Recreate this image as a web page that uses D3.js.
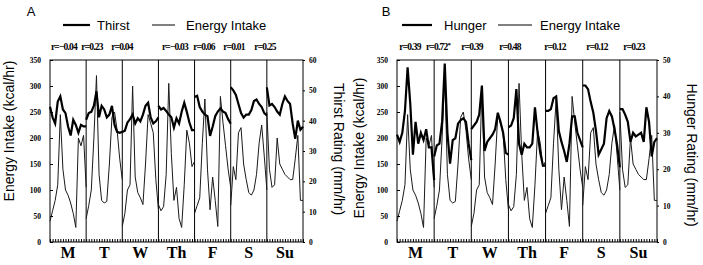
<!DOCTYPE html>
<html>
<head>
<meta charset="utf-8">
<script src="https://cdn.jsdelivr.net/npm/d3@7"></script>
<style>
body { margin: 0; background: #fff; }
.tickLbl { font-family: "Liberation Serif", serif; font-weight: bold; font-size: 7.5px; }
.sans { font-family: "Liberation Sans", Arial, sans-serif; }
</style>
</head>
<body>
<script>
(function(){

//day labels and hours plotted per day (intervals)
var days = ["M", "T", "W", "Th", "F", "S", "Su"];
var hoursPerDay = 14;

//energy intake (kcal/hr), one row per day, shared by both panels
var energyIntake = [
    [40, 60, 80, 110, 245, 140, 100, 90, 75, 55, 28, 200, 185, 205, 105],
    [45, 70, 100, 200, 320, 130, 80, 75, 78, 150, 240, 250, 215, 160, 120],
    [30, 55, 100, 110, 300, 125, 95, 85, 72, 150, 245, 228, 210, 120, 62],
    [72, 60, 68, 130, 305, 170, 80, 105, 45, 28, 110, 215, 190, 145, 155],
    [55, 70, 85, 190, 275, 140, 62, 125, 80, 30, 280, 230, 185, 140, 105],
    [70, 145, 120, 210, 220, 150, 120, 95, 90, 100, 130, 190, 225, 165, 100],
    [250, 140, 105, 110, 200, 150, 140, 130, 125, 120, 120, 160, 205, 80, 80]
];

//thirst rating (mm/hr)
var thirst = [
    [44.6, 41.1, 39.1, 46.3, 48, 43.7, 42.5, 38.1, 35.1, 40.3, 38.6, 36, 38.6, 38.1, 38.1],
    [40.3, 42.5, 42.9, 44.9, 49.7, 41.1, 44.9, 43.7, 41.1, 42, 44.9, 38.6, 36.3, 36, 36.3],
    [36.3, 36.7, 39.4, 40.5, 42, 39.1, 40.8, 39.8, 42, 44.9, 45.9, 41.1, 39.1, 39.8, 41.1],
    [44.9, 43.7, 44.2, 43.2, 42, 41.1, 37.7, 40.8, 39.1, 42.9, 45.9, 42.9, 39.4, 36.9, 36.9],
    [47.8, 48.2, 44.5, 43, 42, 41.5, 35, 38, 41.5, 43, 44, 43, 42.5, 40.5, 39],
    [51, 50, 48.5, 45.5, 42.5, 41, 42, 42, 43.5, 46.5, 47, 45.5, 44.5, 42.5, 41.7],
    [51, 45, 45.5, 44.5, 43, 42, 45.5, 48, 46.5, 45.5, 39, 34, 40, 37, 38]
];

//hunger rating (mm/hr)
var hunger = [
    [29.5, 27.5, 30, 36, 48, 38, 24, 33, 27, 30, 28, 31, 26, 26, 17],
    [23.5, 26.5, 27, 33, 49, 30, 21.5, 28, 28.5, 32.5, 33.5, 34, 33, 27, 22.5],
    [31, 32, 33, 35, 43, 25, 27.5, 28.5, 29.5, 31, 35.5, 33, 30, 24.5, 24],
    [31.5, 32, 34, 42, 27, 24, 27, 26, 26, 27, 37, 30, 24.5, 21, 21],
    [36, 36, 36.5, 39.5, 40, 30.5, 27.5, 25, 22, 27, 34.5, 34.5, 30, 28, 26],
    [43, 43, 42, 38.5, 35.5, 30.5, 24, 25.5, 27, 34, 36, 34.5, 31, 26.5, 20.5],
    [36.5, 36.5, 35, 33, 27.5, 30, 29, 29.5, 30, 27.5, 37, 33, 23.5, 27.5, 28.5]
];

//daily correlations
var thirstR = [-0.04, 0.23, 0.04, -0.03, 0.06, 0.01, 0.25];
var hungerR = [0.39, 0.72, 0.39, 0.48, 0.12, 0.12, 0.23];
var hungerSig = [false, true, false, false, false, false, false];

//tick values
var kcalTicks = [0, 50, 100, 150, 200, 250, 300, 350];
var thirstTicks = [0, 10, 20, 30, 40, 50, 60];
var hungerTicks = [0, 10, 20, 30, 40, 50];

window.onload = setChart();

function setChart(){
    var width = 703,
        height = 265;

    var svg = d3.select("body")
        .append("svg")
        .attr("width", width)
        .attr("height", height)
        .style("display", "block");

    //panel A
    drawPanel(svg, {
        letter: "A", letterX: 31,
        left: 50, right: 303, top: 60, bottom: 242,
        leg: [63, 90, 97, 152, 175, 186],
        name: "Thirst",
        rating: thirst, ratingMax: 60, ratingTicks: thirstTicks,
        rVals: thirstR, rSig: [false, false, false, false, false, false, false],
        rX: [64, 92, 122, 175, 204, 234, 265],
        leftTitleX: 14, leftTitleY: 131,
        rightTitle: "Thirst Rating (mm/hr)", rightTitleX: 334, rightTitleY: 149
    });

    //panel B
    drawPanel(svg, {
        letter: "B", letterX: 386,
        left: 397, right: 657, top: 60, bottom: 242,
        leg: [402, 432, 444, 498, 532, 540],
        name: "Hunger",
        rating: hunger, ratingMax: 50, ratingTicks: hungerTicks,
        rVals: hungerR, rSig: hungerSig,
        rX: [410, 438, 472, 510, 555, 597, 634],
        leftTitleX: 364, leftTitleY: 148,
        rightTitle: "Hunger Rating (mm/hr)", rightTitleX: 687, rightTitleY: 155
    });
};

function drawPanel(svg, c){
    var nHours = days.length * hoursPerDay;

    var x = d3.scaleLinear()
        .domain([0, nHours])
        .range([c.left, c.right]);

    var yK = d3.scaleLinear()
        .domain([0, 350])
        .range([c.bottom, c.top]);

    var yR = d3.scaleLinear()
        .domain([0, c.ratingMax])
        .range([c.bottom, c.top]);

    var g = svg.append("g");

    //panel letter
    g.append("text")
        .attr("class", "sans")
        .attr("x", c.letterX)
        .attr("y", 16)
        .attr("text-anchor", "middle")
        .style("font-size", "13px")
        .text(c.letter);

    //legend
    g.append("line")
        .attr("x1", c.leg[0]).attr("x2", c.leg[1])
        .attr("y1", 25).attr("y2", 25)
        .attr("stroke", "#000").attr("stroke-width", 2.2);
    g.append("text")
        .attr("class", "sans")
        .attr("x", c.leg[2]).attr("y", 30)
        .style("font-size", "13px")
        .text(c.name);
    g.append("line")
        .attr("x1", c.leg[3]).attr("x2", c.leg[4])
        .attr("y1", 25).attr("y2", 25)
        .attr("stroke", "#000").attr("stroke-width", 1);
    g.append("text")
        .attr("class", "sans")
        .attr("x", c.leg[5]).attr("y", 30)
        .style("font-size", "13px")
        .text("Energy Intake");

    //correlation labels
    var fmt = d3.format(".2f");
    var rl = g.selectAll(".rLabel")
        .data(c.rVals)
        .enter()
        .append("text")
        .attr("class", "rLabel")
        .attr("x", function(d, i){ return c.rX[i]; })
        .attr("y", 50)
        .attr("text-anchor", "middle")
        .style("font-family", "'Liberation Serif', serif")
        .style("font-weight", "bold")
        .style("font-size", "9.5px")
        .style("letter-spacing", "-0.8px")
        .text(function(d){ return "r=" + fmt(d); });
    rl.filter(function(d, i){ return c.rSig[i]; })
        .append("tspan")
        .attr("dy", -3)
        .style("font-size", "7px")
        .text("*");

    //minor hour ticks along the bottom
    g.append("g")
        .attr("transform", "translate(0," + c.bottom + ")")
        .call(d3.axisBottom(x)
            .tickValues(d3.range(0, nHours + 1))
            .tickSize(-3)
            .tickSizeOuter(0)
            .tickFormat(""))
        .call(function(s){ s.select(".domain").remove(); });

    //left axis
    var la = g.append("g")
        .attr("transform", "translate(" + c.left + ",0)")
        .call(d3.axisLeft(yK)
            .tickValues(kcalTicks)
            .tickSize(-3)
            .tickSizeOuter(0)
            .tickPadding(9));
    la.select(".domain").remove();
    la.selectAll("text").attr("class", "tickLbl").attr("fill", "#000");

    //right axis
    var ra = g.append("g")
        .attr("transform", "translate(" + c.right + ",0)")
        .call(d3.axisRight(yR)
            .tickValues(c.ratingTicks)
            .tickSize(2)
            .tickSizeOuter(0)
            .tickPadding(4));
    ra.select(".domain").remove();
    ra.selectAll("text").attr("class", "tickLbl").attr("fill", "#000");

    //frame
    g.append("rect")
        .attr("x", c.left)
        .attr("y", c.top)
        .attr("width", c.right - c.left)
        .attr("height", c.bottom - c.top)
        .attr("fill", "none")
        .attr("stroke", "#000")
        .attr("stroke-width", 1);

    //day dividers
    g.selectAll(".divider")
        .data(d3.range(1, days.length))
        .enter()
        .append("line")
        .attr("class", "divider")
        .attr("x1", function(d){ return x(d * hoursPerDay); })
        .attr("x2", function(d){ return x(d * hoursPerDay); })
        .attr("y1", c.top)
        .attr("y2", c.bottom)
        .attr("stroke", "#000")
        .attr("stroke-width", 1);

    //day names
    g.selectAll(".dayLbl")
        .data(days)
        .enter()
        .append("text")
        .attr("class", "dayLbl")
        .attr("x", function(d, i){ return x((i + 0.5) * hoursPerDay); })
        .attr("y", 258)
        .attr("text-anchor", "middle")
        .style("font-family", "'Liberation Serif', serif")
        .style("font-weight", "bold")
        .style("font-size", "16px")
        .text(function(d){ return d; });

    //energy intake (thin) then rating (thick)
    drawSeries(g, x, yK, energyIntake, "intake", 1, "#1a1a1a");
    drawSeries(g, x, yR, c.rating, "rating", 2.2, "#000");

    //axis titles
    g.append("text")
        .attr("class", "sans")
        .attr("transform", "translate(" + c.leftTitleX + "," + c.leftTitleY + ") rotate(-90)")
        .attr("text-anchor", "middle")
        .style("font-size", "14px")
        .text("Energy Intake (kcal/hr)");
    g.append("text")
        .attr("class", "sans")
        .attr("transform", "translate(" + c.rightTitleX + "," + c.rightTitleY + ") rotate(90)")
        .attr("text-anchor", "middle")
        .style("font-size", "14px")
        .text(c.rightTitle);
};

function drawSeries(g, x, y, series, cls, w, col){
    g.selectAll("." + cls)
        .data(series)
        .enter()
        .append("path")
        .attr("class", cls)
        .attr("d", function(vals, d){
            var line = d3.line()
                .x(function(v, i){ return x(d * hoursPerDay + i); })
                .y(function(v){ return y(v); });
            return line(vals);
        })
        .attr("fill", "none")
        .attr("stroke", col)
        .attr("stroke-width", w);
};

})();
</script>
</body>
</html>
